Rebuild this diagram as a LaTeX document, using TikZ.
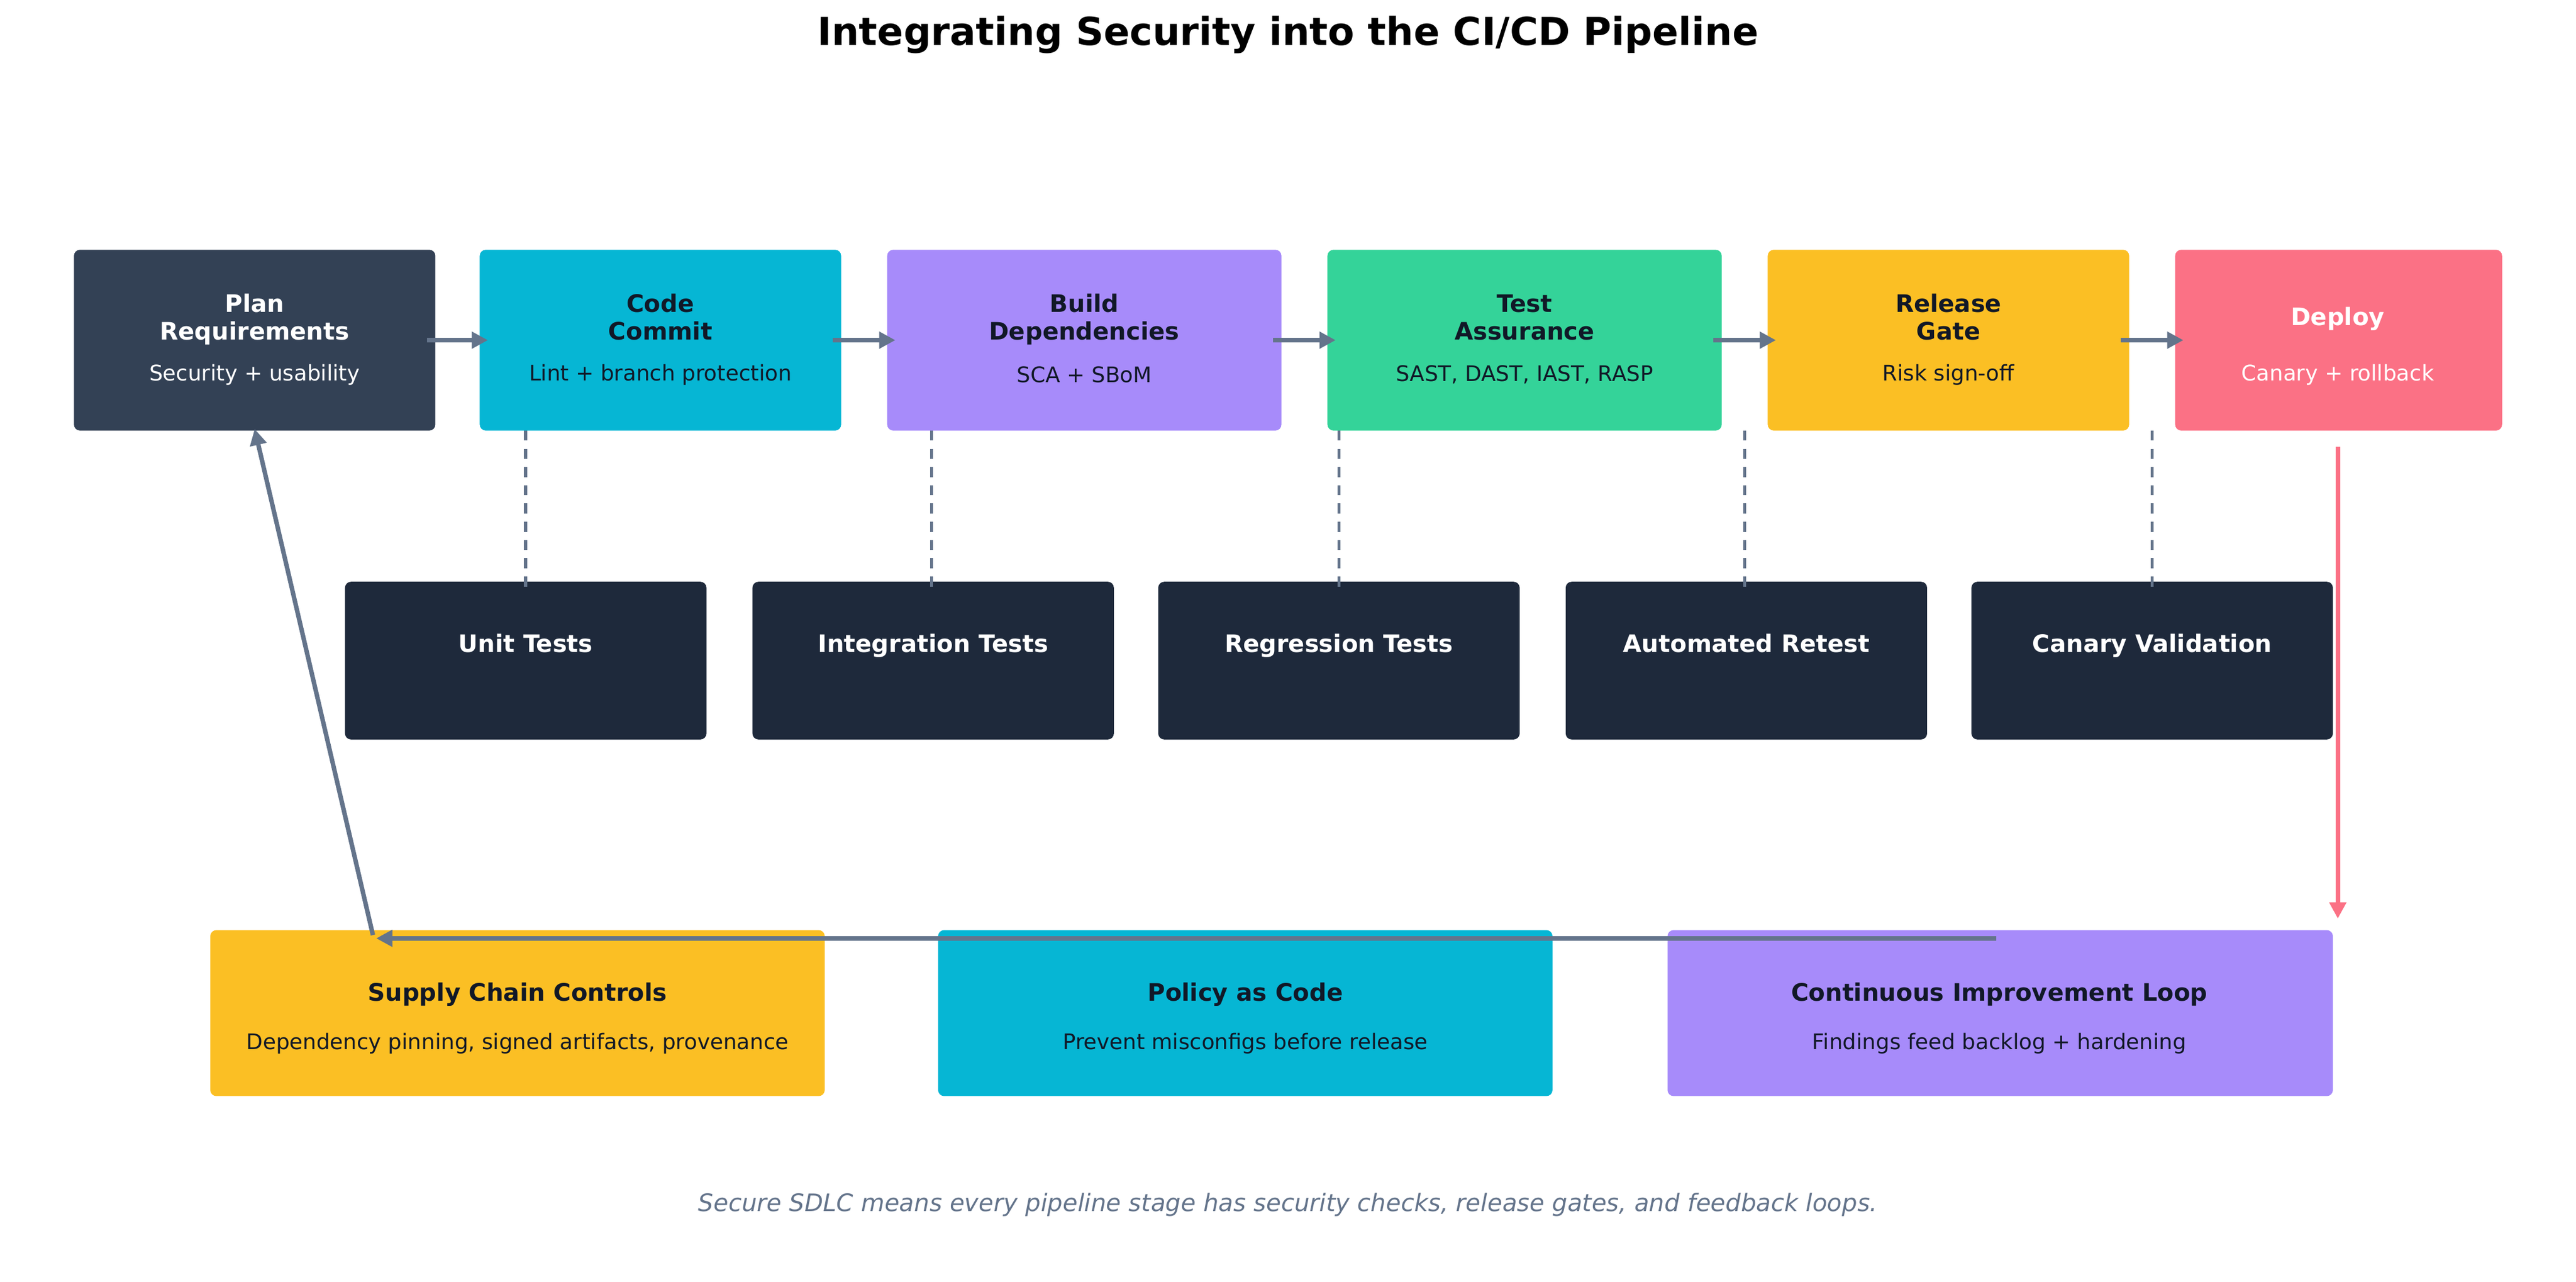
\documentclass[tikz,border=0pt]{standalone}
\usepackage{fontspec}
\setmainfont{DejaVu Sans}
\usetikzlibrary{arrows.meta}
\definecolor{cplan}{HTML}{334155}
\definecolor{ccyan}{HTML}{06B6D4}
\definecolor{cpurp}{HTML}{A78BFA}
\definecolor{cgreen}{HTML}{34D399}
\definecolor{cyell}{HTML}{FBBF24}
\definecolor{cpink}{HTML}{FB7185}
\definecolor{cdark}{HTML}{1E293B}
\definecolor{cgray}{HTML}{64748B}
\definecolor{ctxt}{HTML}{111827}
\begin{document}
\begin{tikzpicture}[x=0.02851cm,y=-0.02851cm,
  ttl/.style={font=\fontsize{11.85}{13.6}\selectfont\bfseries,align=center,inner sep=0pt},
  sub/.style={font=\fontsize{10.6}{12}\selectfont,inner sep=0pt},
  arr/.style={cgray,line width=2.2pt,-{Triangle[length=8pt,width=8pt]}},
  dsh/.style={cgray,line width=1.6pt,dash pattern=on 5pt off 4pt}]
\useasboundingbox (0,0) rectangle (1568,780);
\node[font=\fontsize{19}{22}\selectfont\bfseries] (title) at (784,21) {Integrating Security into the CI/CD Pipeline};
% top row
\fill[cplan,rounded corners=3pt] (45,152) rectangle (265,262); \coordinate (plan) at (155,207);
\fill[ccyan,rounded corners=3pt] (292,152) rectangle (512,262); \coordinate (code) at (402,207);
\fill[cpurp,rounded corners=3pt] (540,152) rectangle (780,262); \coordinate (build) at (660,207);
\fill[cgreen,rounded corners=3pt] (808,152) rectangle (1048,262); \coordinate (test) at (928,207);
\fill[cyell,rounded corners=3pt] (1076,152) rectangle (1296,262); \coordinate (rel) at (1186,207);
\fill[cpink,rounded corners=3pt] (1324,152) rectangle (1523,262); \coordinate (dep) at (1423,207);
\node[ttl,white] (t1) at (155,195) {Plan\strut\\Requirements\strut};
\node[sub,white] (s1) at (155,228) {Security + usability};
\node[ttl,ctxt] (t2) at (402,195) {Code\strut\\Commit\strut};
\node[sub,ctxt] (s2) at (402,228) {Lint + branch protection};
\node[ttl,ctxt] (t3) at (660,195) {Build\strut\\Dependencies\strut};
\node[sub,ctxt] (s3) at (660,228) {SCA + SBoM};
\node[ttl,ctxt] (t4) at (928,195) {Test\strut\\Assurance\strut};
\node[sub,ctxt] (s4) at (928,228) {SAST, DAST, IAST, RASP};
\node[ttl,ctxt] (t5) at (1186,195) {Release\strut\\Gate\strut};
\node[sub,ctxt] (s5) at (1186,228) {Risk sign-off};
\node[ttl,white] (t6) at (1423,194) {Deploy};
\node[sub,white] (s6) at (1423,228) {Canary + rollback};
% middle row
\foreach \x/\n/\l in {210/m1/Unit Tests,458/m2/Integration Tests,705/m3/Regression Tests,953/m4/Automated Retest,1200/m5/Canary Validation}{
  \fill[cdark,rounded corners=3pt] (\x,354) rectangle ({\x+220},450);
  \node[ttl,white,anchor=base] (\n) at ({\x+110},397) {\l};
}
\foreach \x in {320,567,815,1062,1310}{
  \coordinate (a\x) at (\x,262); \coordinate (b\x) at (\x,358);
  \draw[dsh] (a\x) -- (b\x);
}
% bottom row
\fill[cyell,rounded corners=3pt] (128,566) rectangle (502,667);
\fill[ccyan,rounded corners=3pt] (571,566) rectangle (945,667);
\fill[cpurp,rounded corners=3pt] (1015,566) rectangle (1420,667);
\node[ttl,ctxt] (b1) at (315,605) {Supply Chain Controls};
\node[sub,ctxt] (bs1) at (315,635) {Dependency pinning, signed artifacts, provenance};
\node[ttl,ctxt] (b2) at (758,605) {Policy as Code};
\node[sub,ctxt] (bs2) at (758,635) {Prevent misconfigs before release};
\node[ttl,ctxt] (b3) at (1217,605) {Continuous Improvement Loop};
\node[sub,ctxt] (bs3) at (1217,635) {Findings feed backlog + hardening};
% arrows
\foreach \a/\b in {260/297,507/545,775/813,1043/1081,1291/1329}{
  \coordinate (p\a) at (\a,207); \coordinate (q\a) at (\b,207);
  \draw[arr] (p\a) -- (q\a);
}
\coordinate (pk1) at (1423,272); \coordinate (pk2) at (1423,559);
\draw[cpink,line width=2.2pt,-{Triangle[length=8pt,width=8pt]}] (pk1) -- (pk2);
\coordinate (l1) at (1215,571); \coordinate (l2) at (229,571);
\draw[arr] (l1) -- (l2);
\coordinate (u1) at (227,569); \coordinate (u2) at (155,261);
\draw[arr] (u1) -- (u2);
\node[font=\fontsize{11.9}{13}\selectfont\itshape,text=cgray] (foot) at (784,733) {Secure SDLC means every pipeline stage has security checks, release gates, and feedback loops.};
\end{tikzpicture}
\end{document}
